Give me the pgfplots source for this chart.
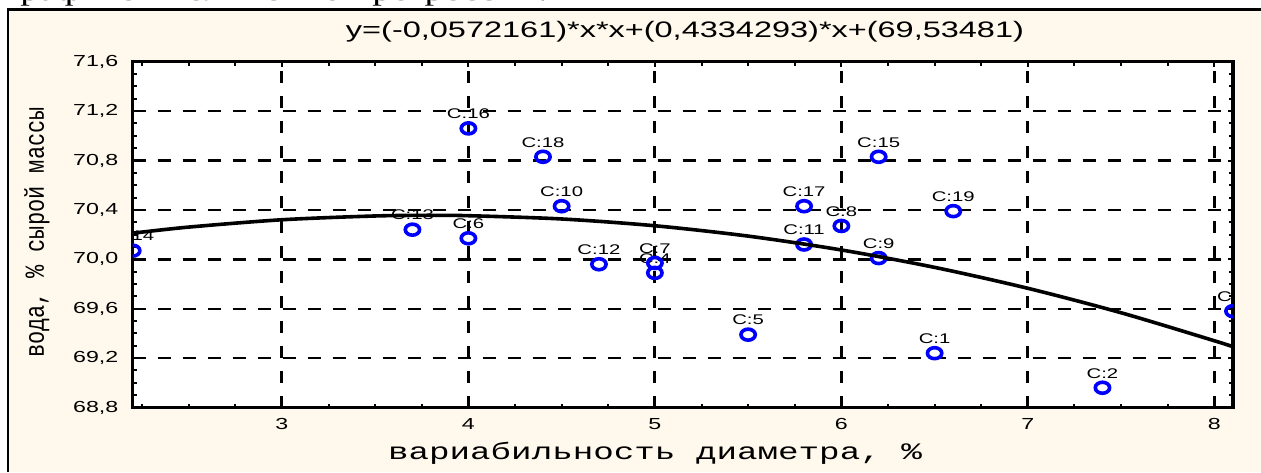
\documentclass[border=0pt]{standalone}
\usepackage{fontspec}
\usepackage{graphicx}
\usepackage{pgfplots}
\usepackage{pgfplotstable}
\pgfplotsset{compat=1.18}
\setmainfont{Liberation Sans}[FakeStretch=1.45]
\newfontfamily\labelmono{Liberation Mono}[FakeStretch=1.45]
\newfontfamily\rotmono{Liberation Mono}
\newfontfamily\docserif{Liberation Serif}[FakeStretch=1.45]
\definecolor{panel}{RGB}{255,249,237}
\definecolor{markblue}{RGB}{0,0,255}

% observed cases: diameter variability (%) vs water content (% of raw mass)
\pgfplotstableread{
x    y      lab
6.5  69.24  C:1
7.4  68.96  C:2
8.1  69.58  C:3
5.0  69.89  C:4
5.5  69.39  C:5
4.0  70.17  C:6
5.0  69.97  C:7
6.0  70.27  C:8
6.2  70.01  C:9
4.5  70.43  C:10
5.8  70.12  C:11
4.7  69.96  C:12
3.7  70.24  C:13
2.2  70.07  C:14
6.2  70.83  C:15
4.0  71.06  C:16
5.8  70.43  C:17
4.4  70.83  C:18
6.6  70.39  C:19
}\cases

% quadratic fit y=-0.0572161x^2+0.4334293x+69.53481, tabulated
\pgfplotstableread{
x       y
2.2     70.2114
2.5     70.2608
3.0     70.3202
3.5     70.3509
3.7876  70.3557
4.0     70.3531
4.5     70.3266
5.0     70.2716
5.5     70.1879
6.0     70.0756
6.5     69.9347
7.0     69.7652
7.5     69.5671
8.0     69.3404
8.1     69.2916
}\fitcurve

\begin{document}
\begin{tikzpicture}
% page panel and frame
\fill[panel] (4.15pt,0) rectangle (630.5pt,231.25pt);
\node[anchor=base west, inner sep=0pt, font=\docserif\fontsize{13.3}{15}\selectfont]
  at (0pt,235.6pt) {Графиков нелинейной регрессии:};
\draw[line width=1.1pt] (4.15pt,0) -- (4.15pt,231.25pt) -- (630.5pt,231.25pt);

\begin{axis}[
  at={(66.35pt,32.25pt)}, anchor=south west,
  scale only axis, width=550.15pt, height=172.9pt,
  xmin=2.2, xmax=8.1, ymin=68.8, ymax=71.6,
  xtick={3,4,5,6,7,8},
  xticklabels={3,4,5,6,7,8},
  minor xtick={2.25,2.5,2.75,3.25,3.5,3.75,4.25,4.5,4.75,5.25,5.5,5.75,6.25,6.5,6.75,7.25,7.5,7.75},
  ytick={68.8,69.2,69.6,70.0,70.4,70.8,71.2,71.6},
  yticklabels={{68,8},{69,2},{69,6},{70,0},{70,4},{70,8},{71,2},{71,6}},
  minor y tick num=3,
  tick align=inside,
  tick pos=both,
  major tick length=2.5pt, minor tick length=2pt,
  every tick/.style={black, line width=1pt},
  axis line style={black, line width=1.6pt},
  axis background/.style={fill=white},
  grid=major,
  major x grid style={black, line width=1.6pt, dash pattern=on 6pt off 6.5pt},
  major y grid style={black, line width=1.2pt, dash pattern=on 6.5pt off 6pt},
  tick label style={font=\fontsize{8}{9}\selectfont, inner sep=0pt},
  xticklabel style={anchor=north, yshift=-5.3pt},
  yticklabel style={anchor=east, xshift=-7pt},
  clip marker paths=true,
]
\addplot[only marks, mark=o, mark size=2.75pt, markblue, line width=1.8pt,
  mark options={xscale=1.3, solid},
  nodes near coords, point meta=explicit symbolic,
  every node near coord/.append style={text=black, font=\fontsize{7}{8}\selectfont,
    inner sep=0pt, yshift=3.9pt}]
  table[x=x, y=y, meta=lab] {\cases};
\addplot[black, line width=1.8pt, smooth, no markers] table[x=x, y=y] {\fitcurve};
\end{axis}

% title and axis labels
\node[anchor=base, font=\fontsize{11.2}{13}\selectfont] at (342.5pt,217pt)
  {y=(-0,0572161)*x*x+(0,4334293)*x+(69,53481)};
\node[anchor=base, font=\labelmono\fontsize{11.8}{14}\selectfont] at (327.5pt,6.5pt)
  {вариабильность диаметра, \%};
\node[anchor=base, rotate=90, inner sep=0pt] at (22pt,119.75pt)
  {\scalebox{1}[1.25]{\rotmono\fontsize{11}{13}\selectfont вода, \% сырой массы}};

\pgfresetboundingbox
\useasboundingbox (0,0) rectangle (630.5pt,236pt);
\end{tikzpicture}
\end{document}
